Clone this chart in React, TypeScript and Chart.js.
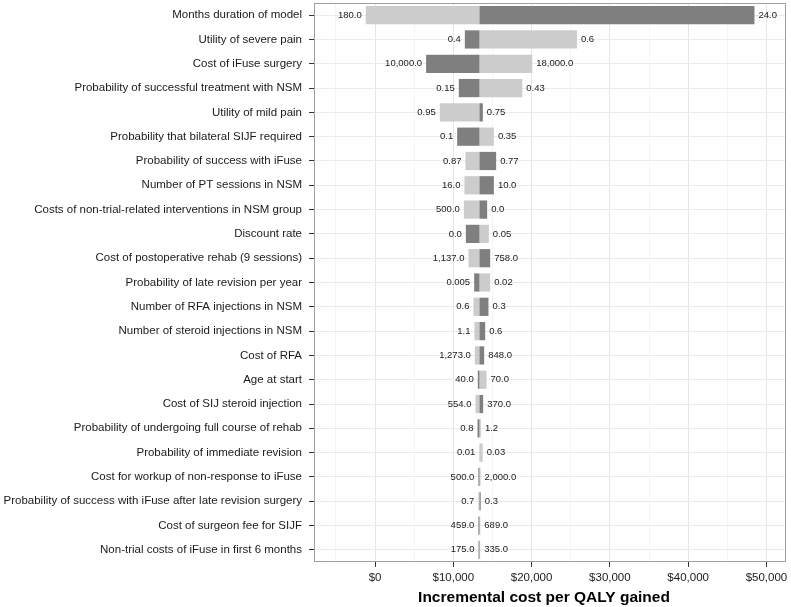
import React, { useEffect, useRef } from "react";
import { Chart, registerables } from "chart.js";

Chart.register(...registerables);

const categories = [
  "Months duration of model",
  "Utility of severe pain",
  "Cost of iFuse surgery",
  "Probability of successful treatment with NSM",
  "Utility of mild pain",
  "Probability that bilateral SIJF required",
  "Probability of success with iFuse",
  "Number of PT sessions in NSM",
  "Costs of non-trial-related interventions in NSM group",
  "Discount rate",
  "Cost of postoperative rehab (9 sessions)",
  "Probability of late revision per year",
  "Number of RFA injections in NSM",
  "Number of steroid injections in NSM",
  "Cost of RFA",
  "Age at start",
  "Cost of SIJ steroid injection",
  "Probability of undergoing full course of rehab",
  "Probability of immediate revision",
  "Cost for workup of non-response to iFuse",
  "Probability of success with iFuse after late revision surgery",
  "Cost of surgeon fee for SIJF",
  "Non-trial costs of iFuse in first 6 months",
];

const baseIcer = 13340;

// ICER when parameter at its high value (light bars)
const highParamIcer = [
  -1190, 25790, 20080, 18800, 8270, 15180, 11550, 11420, 11340, 14540, 11940,
  14710, 12570, 12700, 12750, 14240, 12830, 13520, 13750, 13480, 13200, 13450,
  13430,
];

// ICER when parameter at its low value (dark bars)
const lowParamIcer = [
  48470, 11470, 6520, 10700, 13770, 10490, 15470, 15180, 14320, 11600, 14710,
  12660, 14490, 14070, 13940, 13130, 13810, 13090, 13330, 13200, 13500, 13200,
  13220,
];

const leftLabels = [
  "180.0", "0.4", "10,000.0", "0.15", "0.95", "0.1", "0.87", "16.0", "500.0",
  "0.0", "1,137.0", "0.005", "0.6", "1.1", "1,273.0", "40.0", "554.0", "0.8",
  "0.01", "500.0", "0.7", "459.0", "175.0",
];

const rightLabels = [
  "24.0", "0.6", "18,000.0", "0.43", "0.75", "0.35", "0.77", "10.0", "0.0",
  "0.05", "758.0", "0.02", "0.3", "0.6", "848.0", "70.0", "370.0", "1.2",
  "0.03", "2,000.0", "0.3", "689.0", "335.0",
];

const xTickValues = [
  -5000, 0, 5000, 10000, 15000, 20000, 25000, 30000, 35000, 40000, 45000, 50000,
];

const xTitle = "Incremental cost per QALY gained";

const FONT = "'Liberation Sans', Arial, Helvetica, sans-serif";
const TEXT = "#1a1a1a";

const barLabelPlugin = {
  id: "barLabels",
  afterDatasetsDraw(chart: any) {
    const { ctx, scales } = chart;
    const xs = scales.x;
    const ys = scales.y;
    ctx.save();
    ctx.font = `9.5px ${FONT}`;
    ctx.fillStyle = TEXT;
    ctx.textBaseline = "middle";
    for (let i = 0; i < categories.length; i++) {
      const lo = Math.min(baseIcer, highParamIcer[i], lowParamIcer[i]);
      const hi = Math.max(baseIcer, highParamIcer[i], lowParamIcer[i]);
      const y = ys.getPixelForValue(i);
      ctx.textAlign = "right";
      ctx.fillText(leftLabels[i], xs.getPixelForValue(lo) - 4, y);
      ctx.textAlign = "left";
      ctx.fillText(rightLabels[i], xs.getPixelForValue(hi) + 4, y);
    }
    ctx.restore();
  },
};

const panelPlugin = {
  id: "panelBorder",
  afterDraw(chart: any) {
    const { ctx, chartArea, scales } = chart;
    ctx.save();
    ctx.strokeStyle = "#a0a0a0";
    ctx.lineWidth = 1;
    ctx.strokeRect(
      Math.round(chartArea.left) + 0.5,
      Math.round(chartArea.top) + 0.5,
      Math.round(chartArea.right - chartArea.left) - 1,
      Math.round(chartArea.bottom - chartArea.top) - 1
    );
    // axis title
    const xs = scales.x;
    ctx.font = `bold 15.5px ${FONT}`;
    ctx.fillStyle = "#000000";
    ctx.textAlign = "center";
    ctx.textBaseline = "middle";
    ctx.fillText(xTitle, (xs.left + xs.right) / 2 - 6, xs.bottom - 9);
    ctx.restore();
  },
};

export default function App() {
  const canvasRef = useRef<HTMLCanvasElement | null>(null);

  useEffect(() => {
    document.body.style.margin = "0";
    const canvas = canvasRef.current;
    if (!canvas) return;
    const chart = new Chart(canvas, {
      type: "bar",
      data: {
        labels: categories,
        datasets: [
          {
            label: "Low value",
            data: lowParamIcer.map((v) => [baseIcer, v]) as any,
            backgroundColor: "#7f7f7f",
            grouped: false,
            categoryPercentage: 1,
            barPercentage: 0.75,
          } as any,
          {
            label: "High value",
            data: highParamIcer.map((v) => [baseIcer, v]) as any,
            backgroundColor: "#cccccc",
            grouped: false,
            categoryPercentage: 1,
            barPercentage: 0.75,
          } as any,
        ],
      },
      options: {
        indexAxis: "y",
        responsive: false,
        animation: false,
        layout: { padding: { top: 3, right: 5, left: 0, bottom: 0 } },
        plugins: {
          legend: { display: false },
          tooltip: { enabled: false },
        },
        scales: {
          x: {
            type: "linear",
            min: -7800,
            max: 52500,
            afterBuildTicks: (axis: any) => {
              axis.ticks = xTickValues.map((v) => ({ value: v }));
            },
            afterFit: (axis: any) => {
              axis.height = 45;
              axis.paddingLeft = 0;
              axis.paddingRight = 0;
            },
            border: { display: false },
            grid: {
              color: (c: any) =>
                c.tick && c.tick.value % 10000 === 0 ? "#e6e6e6" : "#f0f0f0",
              tickColor: (c: any) =>
                c.tick && c.tick.value % 10000 === 0 ? "#333333" : "rgba(0,0,0,0)",
              tickLength: 5,
              lineWidth: (c: any) => (c.tick && c.tick.value % 10000 === 0 ? 1 : 0.7),
            },
            ticks: {
              autoSkip: false,
              maxRotation: 0,
              padding: 4,
              color: TEXT,
              font: { family: FONT, size: 11.5 },
              callback: (v: any) =>
                Number(v) % 10000 === 0
                  ? "$" + Number(v).toLocaleString("en-US")
                  : "",
            },
            title: { display: false },
          },
          y: {
            type: "category",
            offset: true,
            afterFit: (axis: any) => {
              axis.width = 314;
              axis.paddingTop = 0;
              axis.paddingBottom = 0;
            },
            border: { display: false },
            grid: {
              offset: false,
              color: "#ebebeb",
              tickColor: "#333333",
              tickLength: 5,
            },
            ticks: {
              autoSkip: false,
              padding: 7,
              color: TEXT,
              font: { family: FONT, size: 11.5 },
            },
          },
        },
      } as any,
      plugins: [barLabelPlugin, panelPlugin],
    });
    return () => chart.destroy();
  }, []);

  return (
    <div style={{ width: 791, height: 607 }}>
      <canvas ref={canvasRef} width={791} height={607} />
    </div>
  );
}
